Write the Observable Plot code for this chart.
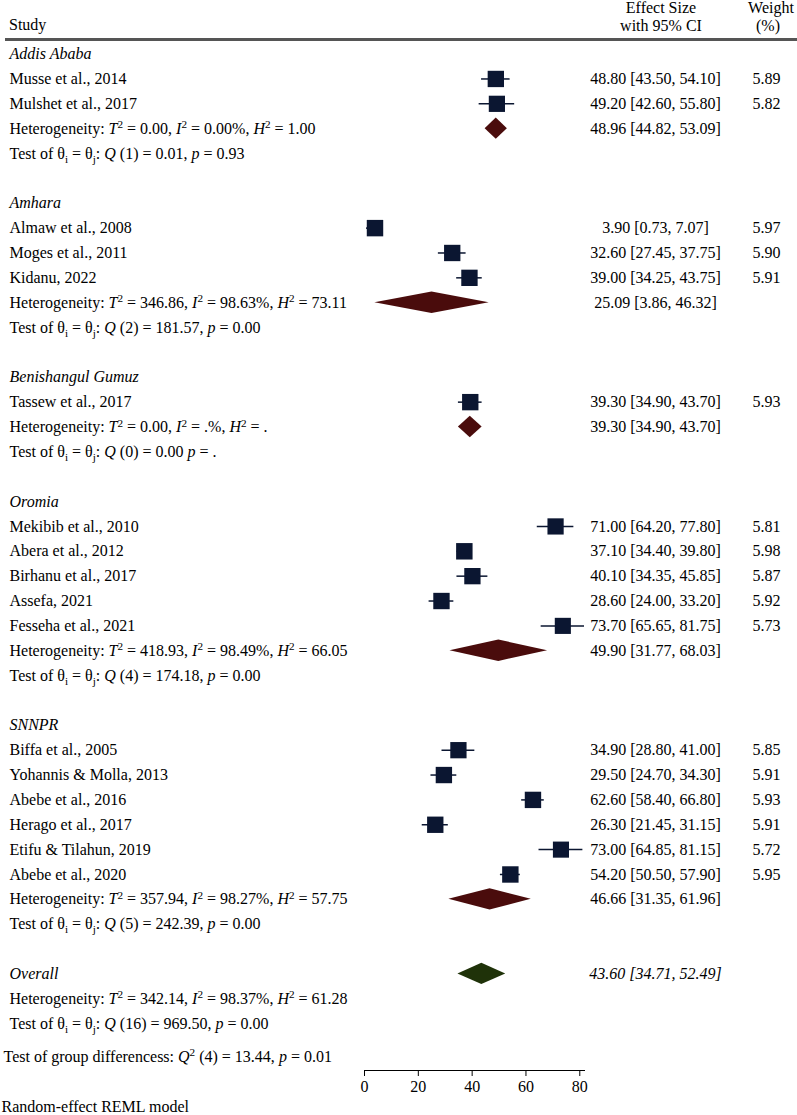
<!DOCTYPE html>
<html><head><meta charset="utf-8">
<script src="https://cdn.jsdelivr.net/npm/d3@7"></script>
<script src="https://cdn.jsdelivr.net/npm/@observablehq/plot@0.6"></script>
<style>
body{margin:0;background:#fff;font-family:'Liberation Serif',serif;color:#000}
#header{position:relative;width:797px;height:42px;font-size:16px;line-height:1}
#header span{position:absolute;white-space:nowrap}
#header .c{transform:translateX(-50%)}
#rule{position:absolute;left:5px;right:0;top:38px;height:3px;background:#555}
</style></head><body>
<div id="header">
  <span style="left:9px;top:17px">Study</span>
  <span class="c" style="left:661px;top:0px">Effect Size</span>
  <span class="c" style="left:661px;top:18px">with 95% CI</span>
  <span class="c" style="left:771px;top:0px">Weight</span>
  <span class="c" style="left:768px;top:18px">(%)</span>
  <div id="rule"></div>
</div>
<div id="chart"></div>
<script>
// ---------- data ----------
const groups = ["Addis Ababa", "Amhara", "Benishangul Gumuz", "Oromia", "SNNPR"];
const studyNames = ["Musse et al., 2014", "Mulshet et al., 2017",
  "Almaw et al., 2008", "Moges et al., 2011", "Kidanu, 2022",
  "Tassew et al., 2017",
  "Mekibib et al., 2010", "Abera et al., 2012", "Birhanu et al., 2017", "Assefa, 2021", "Fesseha et al., 2021",
  "Biffa et al., 2005", "Yohannis & Molla, 2013", "Abebe et al., 2016", "Herago et al., 2017", "Etifu & Tilahun, 2019", "Abebe et al., 2020"];
const studyGroup = ["Addis Ababa", "Addis Ababa",
  "Amhara", "Amhara", "Amhara",
  "Benishangul Gumuz",
  "Oromia", "Oromia", "Oromia", "Oromia", "Oromia",
  "SNNPR", "SNNPR", "SNNPR", "SNNPR", "SNNPR", "SNNPR"];
const studyES = [48.80, 49.20, 3.90, 32.60, 39.00, 39.30, 71.00, 37.10, 40.10, 28.60, 73.70, 34.90, 29.50, 62.60, 26.30, 73.00, 54.20];
const studyLo = [43.50, 42.60, 0.73, 27.45, 34.25, 34.90, 64.20, 34.40, 34.35, 24.00, 65.65, 28.80, 24.70, 58.40, 21.45, 64.85, 50.50];
const studyHi = [54.10, 55.80, 7.07, 37.75, 43.75, 43.70, 77.80, 39.80, 45.85, 33.20, 81.75, 41.00, 34.30, 66.80, 31.15, 81.15, 57.90];
const studyWeight = [5.89, 5.82, 5.97, 5.90, 5.91, 5.93, 5.81, 5.98, 5.87, 5.92, 5.73, 5.85, 5.91, 5.93, 5.91, 5.72, 5.95];

const pooledES = [48.96, 25.09, 39.30, 49.90, 46.66];
const pooledLo = [44.82, 3.86, 34.90, 31.77, 31.35];
const pooledHi = [53.09, 46.32, 43.70, 68.03, 61.96];
const hetLabels = [
  "Heterogeneity: *T*^2^ = 0.00, *I*^2^ = 0.00%, *H*^2^ = 1.00",
  "Heterogeneity: *T*^2^ = 346.86, *I*^2^ = 98.63%, *H*^2^ = 73.11",
  "Heterogeneity: *T*^2^ = 0.00, *I*^2^ = .%, *H*^2^ = .",
  "Heterogeneity: *T*^2^ = 418.93, *I*^2^ = 98.49%, *H*^2^ = 66.05",
  "Heterogeneity: *T*^2^ = 357.94, *I*^2^ = 98.27%, *H*^2^ = 57.75"];
const testLabels = [
  "Test of θ~i~ = θ~j~: *Q* (1) = 0.01, *p* = 0.93",
  "Test of θ~i~ = θ~j~: *Q* (2) = 181.57, *p* = 0.00",
  "Test of θ~i~ = θ~j~: *Q* (0) = 0.00 *p* = .",
  "Test of θ~i~ = θ~j~: *Q* (4) = 174.18, *p* = 0.00",
  "Test of θ~i~ = θ~j~: *Q* (5) = 242.39, *p* = 0.00"];

const overallLabel = "Overall";
const overallValues = [43.60, 34.71, 52.49]; // estimate, lower, upper
const overallHet = "Heterogeneity: *T*^2^ = 342.14, *I*^2^ = 98.37%, *H*^2^ = 61.28";
const overallTest = "Test of θ~i~ = θ~j~: *Q* (16) = 969.50, *p* = 0.00";
const groupDiff = "Test of group differencess: *Q*^2^ (4) = 13.44, *p* = 0.01";
const caption = "Random-effect REML model";
const xTicks = [0, 20, 40, 60, 80];

// ---------- layout rows ----------
const fmt = v => v.toFixed(2);
const ci = (e, l, h) => `${fmt(e)} [${fmt(l)}, ${fmt(h)}]`;
const italicRows = [], plainRows = [], studies = [], diamonds = [], esRows = [], wRows = [];
let row = 0;
groups.forEach((g, gi) => {
  italicRows.push({row: row++, label: g});
  studyNames.forEach((n, i) => {
    if (studyGroup[i] !== g) return;
    plainRows.push({row, label: n});
    studies.push({row, es: studyES[i], lo: studyLo[i], hi: studyHi[i], w: studyWeight[i]});
    esRows.push({row, label: ci(studyES[i], studyLo[i], studyHi[i])});
    wRows.push({row, label: fmt(studyWeight[i])});
    row++;
  });
  plainRows.push({row, label: hetLabels[gi]});
  diamonds.push({id: g, row, es: pooledES[gi], lo: pooledLo[gi], hi: pooledHi[gi]});
  esRows.push({row, label: ci(pooledES[gi], pooledLo[gi], pooledHi[gi])});
  row++;
  plainRows.push({row: row++, label: testLabels[gi]});
  row++; // blank
});
const overallRow = row;
italicRows.push({row: row++, label: overallLabel});
const overallDiamond = [{id: "overall", row: overallRow, es: overallValues[0], lo: overallValues[1], hi: overallValues[2]}];
const overallES = [{row: overallRow, label: ci(...overallValues)}];
plainRows.push({row: row++, label: overallHet});
plainRows.push({row: row++, label: overallTest});
const diffRow = [{row: row, label: groupDiff}];

const H = 0.43; // diamond half-height in row units
const diamondPts = ds => ds.flatMap(d => [
  {id: d.id, x: d.lo, y1: d.row, y2: d.row},
  {id: d.id, x: d.es, y1: d.row - H, y2: d.row + H},
  {id: d.id, x: d.hi, y1: d.row, y2: d.row}
]);

const navy = "#0b1631", maroon = "#4a0c0c", green = "#1f3209";
const xMax = d3.max(studyHi);

const chart = Plot.plot({
  width: 797, height: 1073,
  marginLeft: 364, marginRight: 213, marginTop: 0, marginBottom: 45,
  style: {fontFamily: "'Liberation Serif', serif", fontSize: "16px", color: "#000", background: "#fff"},
  x: {domain: [0, xMax]},
  y: {domain: [0, 40], range: [11.6, 1006], axis: null},
  r: {type: "sqrt", domain: [0, 6], range: [0, 9.3]},
  marks: [
    Plot.frame({anchor: "bottom", stroke: "#000"}),
    Plot.axisX({ticks: xTicks, tickSize: 6, tickPadding: 4, label: null, tickFormat: d => d}),
    Plot.text(italicRows, {y: "row", text: "label", frameAnchor: "left", dx: -355, textAnchor: "start", fontStyle: "italic"}),
    Plot.text(plainRows, {y: "row", text: "label", frameAnchor: "left", dx: -355, textAnchor: "start"}),
    Plot.text(diffRow, {y: "row", text: "label", frameAnchor: "left", dx: -361, dy: 8, textAnchor: "start"}),
    Plot.ruleY(studies, {y: "row", x1: "lo", x2: "hi", stroke: navy, strokeWidth: 1.5}),
    Plot.dot(studies, {x: "es", y: "row", r: "w", symbol: "square", fill: navy, stroke: null}),
    Plot.area(diamondPts(diamonds), {x1: "x", y1: "y1", y2: "y2", z: "id", fill: maroon}),
    Plot.area(diamondPts(overallDiamond), {x1: "x", y1: "y1", y2: "y2", z: "id", fill: green}),
    Plot.text(esRows, {y: "row", text: "label", frameAnchor: "right", dx: 71, textAnchor: "middle"}),
    Plot.text(overallES, {y: "row", text: "label", frameAnchor: "right", dx: 71, textAnchor: "middle", fontStyle: "italic"}),
    Plot.text(wRows, {y: "row", text: "label", frameAnchor: "right", dx: 182, textAnchor: "middle"}),
    Plot.text([caption], {frameAnchor: "bottom-left", dx: -363, dy: 41, textAnchor: "start"})
  ]
});

// rich text: *italic*, ^superscript^, ~subscript~
function richify(root) {
  const NS = "http://www.w3.org/2000/svg";
  root.querySelectorAll("text").forEach(t => {
    const s = t.textContent;
    if (!/[*^~]/.test(s)) return;
    while (t.firstChild) t.removeChild(t.firstChild);
    const re = /\*([^*]+)\*|\^([^^]+)\^|~([^~]+)~|([^*^~]+)/g;
    let m, cur = 0;
    while ((m = re.exec(s))) {
      const ts = document.createElementNS(NS, "tspan");
      let target = 0, txt;
      if (m[1] !== undefined) { ts.setAttribute("font-style", "italic"); txt = m[1]; }
      else if (m[2] !== undefined) { target = -5.5; ts.style.fontSize = "70%"; txt = m[2]; }
      else if (m[3] !== undefined) { target = 4; ts.style.fontSize = "70%"; txt = m[3]; }
      else txt = m[4];
      if (target !== cur) { ts.setAttribute("dy", target - cur); cur = target; }
      ts.textContent = txt;
      t.appendChild(ts);
    }
  });
}
richify(chart);
document.getElementById("chart").appendChild(chart);
</script>
</body></html>
